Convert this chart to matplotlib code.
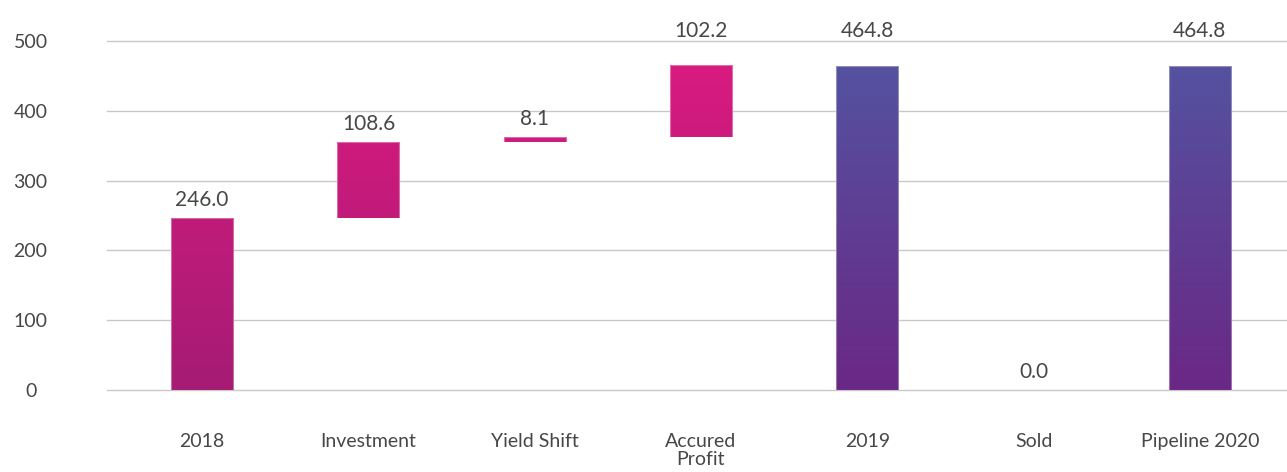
import numpy as np
import matplotlib.pyplot as plt
from matplotlib.colors import LinearSegmentedColormap, Normalize

categories = ['2018', 'Investment', 'Yield Shift', 'Accured\nProfit', '2019', 'Sold', 'Pipeline 2020']
values = [246.0, 108.6, 8.1, 102.2, 464.8, 0.0, 464.8]
# 'total' bars start at zero, 'step' bars float on the running sum
kinds = ['total', 'step', 'step', 'step', 'total', 'total', 'total']

plt.rcParams['font.family'] = ['Lato', 'DejaVu Sans']

# waterfall geometry
bottoms, tops = [], []
running = 0.0
for v, kind in zip(values, kinds):
    if kind == 'total':
        b, t = 0.0, v
        running = v
    else:
        b, t = running, running + v
        running = t
    bottoms.append(b)
    tops.append(t)

pink = LinearSegmentedColormap.from_list('pink', ['#A51C74', '#D91A80'])
purple = LinearSegmentedColormap.from_list('purple', ['#6A2885', '#5452A0'])
norm = Normalize(0, 465)

fig = plt.figure(figsize=(12.87, 4.72), dpi=100)
ax = fig.add_axes([107 / 1287, 1 - 390 / 472, 1180 / 1287, 349 / 472])

x = np.arange(len(categories))
width = 0.373
ax.set_xlim(-0.572, len(categories) - 0.476)
ax.set_ylim(0, 500)

heights = np.array(tops) - np.array(bottoms)
bars = ax.bar(x, heights, width, bottom=bottoms, facecolor='none',
              edgecolor=(1, 1, 1, 0.35), linewidth=0.8, zorder=4)

# gradient fill by absolute height, clipped to each bar
ygrad = np.linspace(0, 500, 500)[:, None]
for xi, bar, kind, v in zip(x, bars, kinds, values):
    if bar.get_height() > 0:
        cmap = purple if (kind == 'total' and xi > 0) else pink
        im = ax.imshow(ygrad, extent=(xi - 0.3, xi + 0.3, 0, 500), origin='lower',
                       cmap=cmap, norm=norm, aspect='auto', zorder=3)
        im.set_clip_path(bar)
    t = bar.get_y() + bar.get_height()
    ly = t + 26 if t + 26 < 480 else 515
    ax.text(xi, ly, f'{v:.1f}', ha='center', va='center', fontsize=15,
            color='#474747', clip_on=False)

ax.set_xlim(-0.572, len(categories) - 0.476)
ax.set_ylim(0, 500)
ax.set_yticks(range(0, 501, 100))
ax.yaxis.grid(True, color='#C8C8C8', linewidth=1)
for gl in ax.get_ygridlines():
    gl.set_clip_on(False)
ax.set_axisbelow(True)
for s in ax.spines.values():
    s.set_visible(False)
ax.tick_params(axis='both', length=0, labelsize=14, colors='#474747')
ax.tick_params(axis='y', pad=55)
for lab in ax.get_yticklabels():
    lab.set_horizontalalignment('center')
ax.set_xticks(x)
ax.set_xticklabels(categories, linespacing=1.05, va='top')
ax.tick_params(axis='x', pad=31)

fig.savefig('out.png', dpi=100)
